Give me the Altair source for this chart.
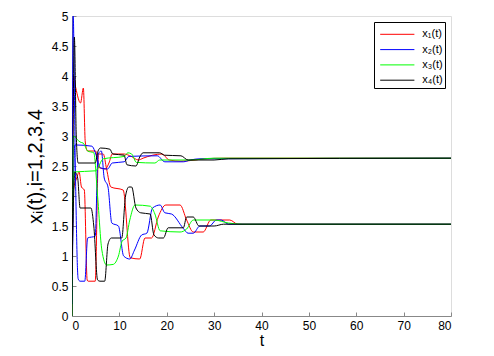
import altair as alt
import pandas as pd

# ---- data (t, value) keypoints for each trajectory ----
SERIES = ["x₁(t)", "x₂(t)", "x₃(t)", "x₄(t)"]
COLORS = ["#ff0000", "#0000ff", "#00ff00", "#000000"]
X_TICKS = [0, 10, 20, 30, 40, 50, 60, 70, 80]
Y_TICKS = [0, 0.5, 1, 1.5, 2, 2.5, 3, 3.5, 4, 4.5, 5]

# x1 (red)
r_a_t = [0, 0.3, 0.8, 1.8, 2.4, 2.8, 3.3, 5.0, 5.6, 7.0, 7.8, 8.5, 11.0, 12.5, 14.0, 15.0, 17.0, 19.0, 20.5, 23.0, 26.0, 28.0, 32.0, 80]
r_a_y = [0.7, 4.0, 3.8, 3.55, 3.8, 2.9, 2.75, 2.75, 2.48, 2.45, 2.55, 2.7, 2.7, 2.66, 2.6, 2.63, 2.68, 2.7, 2.6, 2.58, 2.6, 2.62, 2.63, 2.63]
r_b_t = [0, 0.3, 1.0, 1.5, 2.0, 2.6, 3.2, 3.4, 4.9, 5.6, 6.6, 7.3, 8.2, 10.8, 12.3, 14.3, 15.4, 16.8, 18.2, 19.8, 22.8, 24.2, 25.6, 27.7, 29.3, 33.3, 35, 80]
r_b_y = [0.7, 2.1, 2.3, 2.4, 2.15, 2.1, 0.6, 0.58, 0.58, 2.7, 2.7, 2.45, 2.15, 2.1, 0.97, 0.95, 1.3, 1.3, 1.65, 1.85, 1.85, 1.6, 1.4, 1.4, 1.6, 1.6, 1.53, 1.53]

# x2 (blue)
b_a_t = [0, 0.6, 1.0, 4.2, 4.8, 5.4, 6.0, 7.5, 8.5, 11, 12, 18, 19.6, 23.5, 25, 27, 80]
b_a_y = [0.2, 2.85, 2.85, 2.83, 2.75, 2.6, 2.47, 2.45, 2.55, 2.57, 2.66, 2.67, 2.57, 2.57, 2.6, 2.62, 2.63]
b_b_t = [0, 0.25, 0.7, 1.3, 1.7, 2.7, 3.3, 4.9, 5.5, 6.2, 6.8, 7.6, 8.4, 9.8, 10.9, 12.2, 13.2, 14.7, 15.8, 17.0, 18.6, 19.6, 21.0, 23.5, 24.5, 25.6, 27, 29, 30.5, 31.5, 33, 80]
b_b_y = [0.2, 5.0, 2.5, 0.62, 0.58, 0.58, 1.3, 1.33, 2.7, 2.75, 2.3, 2.15, 1.55, 1.5, 1.0, 0.95, 1.1, 1.35, 1.38, 1.8, 1.85, 1.72, 1.7, 1.46, 1.38, 1.38, 1.5, 1.5, 1.6, 1.6, 1.53, 1.53]

# x3 (green)
g_a_t = [0, 0.3, 5.0, 6.6, 11, 11.8, 12.6, 13.6, 17.5, 18.5, 25, 30, 80]
g_a_y = [0.7, 2.4, 2.42, 2.62, 2.66, 2.72, 2.7, 2.56, 2.55, 2.6, 2.6, 2.63, 2.63]
g_b_t = [0, 0.3, 1.0, 1.7, 2.4, 3.3, 4.6, 5.4, 6.3, 7.3, 8.7, 9.8, 10.6, 11.4, 12.2, 13.3, 16.5, 17.5, 18.6, 22.8, 24.2, 25.6, 30, 33, 36, 80]
g_b_y = [0.0, 3.0, 2.95, 2.9, 2.88, 2.75, 2.72, 2.0, 1.1, 0.85, 0.86, 1.0, 1.25, 1.3, 1.6, 1.85, 1.83, 1.7, 1.42, 1.4, 1.45, 1.6, 1.6, 1.55, 1.53, 1.53]

# x4 (black)
k_a_t = [0, 0.5, 0.9, 1.3, 4.9, 5.5, 6.0, 8.0, 8.6, 11.0, 11.6, 13.5, 14.3, 15.0, 18.5, 19.5, 23.0, 24.5, 30, 33, 80]
k_a_y = [0.0, 4.65, 3.0, 2.55, 2.55, 2.75, 2.8, 2.78, 2.7, 2.68, 2.52, 2.5, 2.65, 2.72, 2.72, 2.68, 2.67, 2.6, 2.6, 2.62, 2.63]
k_b_t = [0, 0.6, 1.2, 1.7, 4.0, 4.6, 5.4, 5.9, 6.9, 7.6, 8.3, 10.5, 11.3, 12.0, 12.6, 13.5, 14.5, 16.5, 17.3, 18.3, 19.3, 20.3, 23.5, 24.2, 25.6, 26.8, 30, 32, 80]
k_b_y = [0.7, 2.4, 2.3, 1.8, 1.8, 1.5, 0.6, 0.58, 0.58, 1.2, 1.3, 1.3, 2.0, 2.15, 2.15, 1.8, 1.72, 1.7, 1.35, 1.3, 1.3, 1.47, 1.47, 1.65, 1.65, 1.5, 1.5, 1.53, 1.53]

curves = [
    (SERIES[0], "r_a", r_a_t, r_a_y), (SERIES[0], "r_b", r_b_t, r_b_y),
    (SERIES[1], "b_a", b_a_t, b_a_y), (SERIES[1], "b_b", b_b_t, b_b_y),
    (SERIES[2], "g_a", g_a_t, g_a_y), (SERIES[2], "g_b", g_b_t, g_b_y),
    (SERIES[3], "k_a", k_a_t, k_a_y), (SERIES[3], "k_b", k_b_t, k_b_y),
]
rows = []
for order, (name, cid, ts, ys) in enumerate(curves):
    for t, y in zip(ts, ys):
        rows.append({"t": t, "y": y, "s": name, "c": cid, "o": order})
df = pd.DataFrame(rows)

FONT = "Liberation Sans, DejaVu Sans, Arial"
xscale = alt.Scale(domain=[0, 80], nice=False)
yscale = alt.Scale(domain=[0, 5], nice=False)

lines = alt.Chart(df).mark_line(interpolate="monotone", strokeWidth=1, clip=True).encode(
    x=alt.X("t:Q", scale=xscale,
            axis=alt.Axis(values=X_TICKS, tickSize=0, labelPadding=4, title="t",
                          titleFontSize=16, titleFontWeight="normal",
                          titleBaseline="bottom", titleY=32,
                          labelFontSize=12, grid=False)),
    y=alt.Y("y:Q", scale=yscale,
            axis=alt.Axis(values=Y_TICKS, format="~g", tickSize=0, labelPadding=4,
                          title="xᵢ(t),i=1,2,3,4", titleFontSize=20, titleFontWeight="normal",
                          titlePadding=6, labelFontSize=12, grid=False)),
    color=alt.Color("s:N", scale=alt.Scale(domain=SERIES, range=COLORS),
                    legend=alt.Legend(title=None, orient="top-right", offset=6, padding=2.3,
                                      strokeColor="black", fillColor="white",
                                      symbolType="M-1.8,0L1.8,0", symbolSize=361,
                                      symbolOffset=11, labelOffset=15, labelFontSize=11,
                                      symbolStrokeWidth=1, rowPadding=0.3, labelFont=FONT,
                                      labelColor="black")),
    detail="c:N",
    order="o:Q",
)

ticks = alt.Chart(df).mark_point(opacity=0).encode(
    x=alt.X("t:Q", scale=xscale,
            axis=alt.Axis(values=X_TICKS, orient="bottom", offset=-4, tickSize=4, labels=False,
                          domain=False, title=None, grid=False)),
    y=alt.Y("y:Q", scale=yscale,
            axis=alt.Axis(values=Y_TICKS, orient="left", offset=-4, tickSize=4, labels=False,
                          domain=False, title=None, grid=False)),
)

chart = alt.layer(lines, ticks).resolve_axis(x="independent", y="independent").properties(
    width=379, height=300,
    autosize=alt.AutoSizeParams(type="none"),
    padding={"left": 64, "top": 8, "right": 35, "bottom": 32},
).configure_view(stroke=None).configure_axis(
    domainColor="black", tickColor="black", labelColor="black", titleColor="black",
    labelFont=FONT, titleFont=FONT, domainWidth=1, tickWidth=1,
).configure(background="white")

chart.save("out.html", embed_options={"renderer": "svg", "actions": False})
